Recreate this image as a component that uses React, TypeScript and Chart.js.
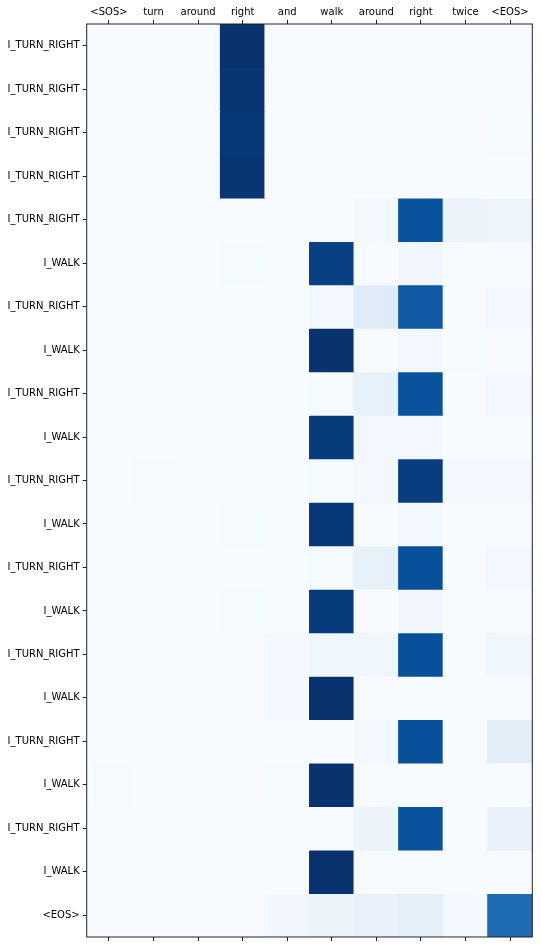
import React, { useEffect, useRef } from "react";
import { Chart, registerables } from "chart.js";

Chart.register(...registerables);

// Input sequence (columns)
const inputTokens = ["<SOS>", "turn", "around", "right", "and", "walk", "around", "right", "twice", "<EOS>"];

// Output sequence (rows)
const outputTokens = [
  "I_TURN_RIGHT", "I_TURN_RIGHT", "I_TURN_RIGHT", "I_TURN_RIGHT",
  "I_TURN_RIGHT", "I_WALK", "I_TURN_RIGHT", "I_WALK",
  "I_TURN_RIGHT", "I_WALK", "I_TURN_RIGHT", "I_WALK",
  "I_TURN_RIGHT", "I_WALK", "I_TURN_RIGHT", "I_WALK",
  "I_TURN_RIGHT", "I_WALK", "I_TURN_RIGHT", "I_WALK",
  "<EOS>",
];

// Attention weights: one row per output token, one value per input token
const attention = [
  [0.0, 0.0, 0.0, 0.99, 0.0, 0.0, 0.0, 0.0, 0.0, 0.0],
  [0.0, 0.0, 0.0, 0.98, 0.0, 0.0, 0.0, 0.0, 0.0, 0.0],
  [0.0, 0.0, 0.0, 0.97, 0.0, 0.0, 0.0, 0.0, 0.0, 0.01],
  [0.0, 0.0, 0.0, 0.98, 0.0, 0.0, 0.0, 0.0, 0.0, 0.0],
  [0.0, 0.0, 0.0, 0.0, 0.0, 0.0, 0.02, 0.87, 0.06, 0.05],
  [0.0, 0.0, 0.0, 0.01, 0.0, 0.94, 0.0, 0.03, 0.0, 0.0],
  [0.0, 0.0, 0.0, 0.0, 0.0, 0.02, 0.12, 0.84, 0.0, 0.02],
  [0.0, 0.0, 0.0, 0.0, 0.0, 0.99, 0.0, 0.02, 0.01, 0.0],
  [0.0, 0.0, 0.0, 0.0, 0.0, 0.01, 0.08, 0.87, 0.0, 0.02],
  [0.0, 0.0, 0.0, 0.0, 0.0, 0.96, 0.02, 0.02, 0.01, 0.01],
  [0.0, 0.01, 0.0, 0.0, 0.0, 0.01, 0.02, 0.95, 0.02, 0.02],
  [0.0, 0.0, 0.0, 0.01, 0.0, 0.97, 0.0, 0.02, 0.0, 0.0],
  [0.0, 0.0, 0.0, 0.0, 0.0, 0.01, 0.08, 0.88, 0.0, 0.02],
  [0.0, 0.0, 0.0, 0.01, 0.0, 0.96, 0.0, 0.03, 0.0, 0.0],
  [0.0, 0.0, 0.0, 0.0, 0.02, 0.04, 0.04, 0.88, 0.0, 0.04],
  [0.0, 0.0, 0.0, 0.0, 0.02, 0.99, 0.0, 0.0, 0.0, 0.0],
  [0.0, 0.0, 0.0, 0.0, 0.0, 0.0, 0.02, 0.88, 0.0, 0.10],
  [0.01, 0.0, 0.0, 0.0, 0.01, 0.99, 0.0, 0.0, 0.0, 0.0],
  [0.0, 0.0, 0.0, 0.0, 0.0, 0.0, 0.06, 0.87, 0.0, 0.07],
  [0.0, 0.0, 0.0, 0.0, 0.0, 0.99, 0.0, 0.0, 0.0, 0.0],
  [0.0, 0.0, 0.0, 0.0, 0.03, 0.06, 0.07, 0.09, 0.02, 0.77],
];

// Matplotlib "Blues" colormap anchors
const bluesStops: [number, number, number][] = [
  [247, 251, 255], [222, 235, 247], [198, 219, 239], [158, 202, 225],
  [107, 174, 214], [66, 146, 198], [33, 113, 181], [8, 81, 156], [8, 48, 107],
];

function blues(v: number): string {
  const t = Math.max(0, Math.min(1, v)) * (bluesStops.length - 1);
  const i = Math.min(bluesStops.length - 2, Math.floor(t));
  const f = t - i;
  const a = bluesStops[i];
  const b = bluesStops[i + 1];
  const c = a.map((x, k) => Math.round(x + (b[k] - x) * f));
  return `rgb(${c[0]},${c[1]},${c[2]})`;
}

const W = 542;
const H = 948;
const FONT = { family: "'DejaVu Sans', sans-serif", size: 10 };

const framePlugin = {
  id: "frame",
  beforeDatasetsDraw(chart: any) {
    const { ctx, chartArea: a } = chart;
    ctx.save();
    ctx.fillStyle = blues(0);
    ctx.fillRect(a.left, a.top, a.right - a.left, a.bottom - a.top);
    ctx.restore();
  },
  afterDraw(chart: any) {
    const { ctx, chartArea: a } = chart;
    ctx.save();
    ctx.strokeStyle = "#222";
    ctx.lineWidth = 1;
    ctx.strokeRect(a.left, a.top, a.right - a.left, a.bottom - a.top);
    ctx.restore();
  },
};

export default function App() {
  const ref = useRef<HTMLCanvasElement>(null);

  useEffect(() => {
    if (!ref.current) return;
    const datasets = outputTokens.map((name, r) => ({
      label: name,
      data: attention[r].map(() => [r - 0.5, r + 0.5]),
      backgroundColor: attention[r].map((v) => blues(v)),
      borderWidth: 0,
      inflateAmount: 0.5,
      barPercentage: 1,
      categoryPercentage: 1,
      grouped: false,
    }));

    const tickGrid = {
      display: true,
      drawOnChartArea: false,
      offset: false,
      tickLength: 4,
      tickColor: "#222",
      tickWidth: 1,
    };

    const chart = new Chart(ref.current, {
      type: "bar",
      data: { labels: inputTokens, datasets: datasets as any },
      plugins: [framePlugin],
      options: {
        animation: false,
        responsive: false,
        layout: { padding: { left: 0, right: 9.7, top: 0, bottom: 0 } },
        plugins: { legend: { display: false }, tooltip: { enabled: false } },
        scales: {
          x: {
            type: "category",
            position: "top",
            offset: true,
            grid: tickGrid,
            border: { display: false },
            ticks: { color: "#000", font: FONT, padding: 2, maxRotation: 0, autoSkip: false },
            afterFit: (s: any) => { s.height = 24; },
          },
          xb: {
            type: "category",
            position: "bottom",
            labels: inputTokens,
            offset: true,
            grid: tickGrid,
            border: { display: false },
            ticks: { display: false },
            afterFit: (s: any) => { s.height = 11; },
          },
          y: {
            type: "linear",
            reverse: true,
            min: -0.5,
            max: 20.5,
            grid: { ...tickGrid },
            border: { display: false },
            afterBuildTicks: (s: any) => {
              s.ticks = outputTokens.map((_, i) => ({ value: i }));
            },
            ticks: {
              color: "#000",
              font: FONT,
              padding: 3,
              autoSkip: false,
              callback: (_v: any, i: number) => outputTokens[i],
            },
            afterFit: (s: any) => { s.width = 86.7; },
          },
        },
      } as any,
    });
    return () => chart.destroy();
  }, []);

  return (
    <div style={{ position: "absolute", left: 0, top: 0, width: W, height: H, background: "#fff" }}>
      <canvas ref={ref} width={W} height={H} style={{ display: "block", width: W, height: H }} />
    </div>
  );
}
